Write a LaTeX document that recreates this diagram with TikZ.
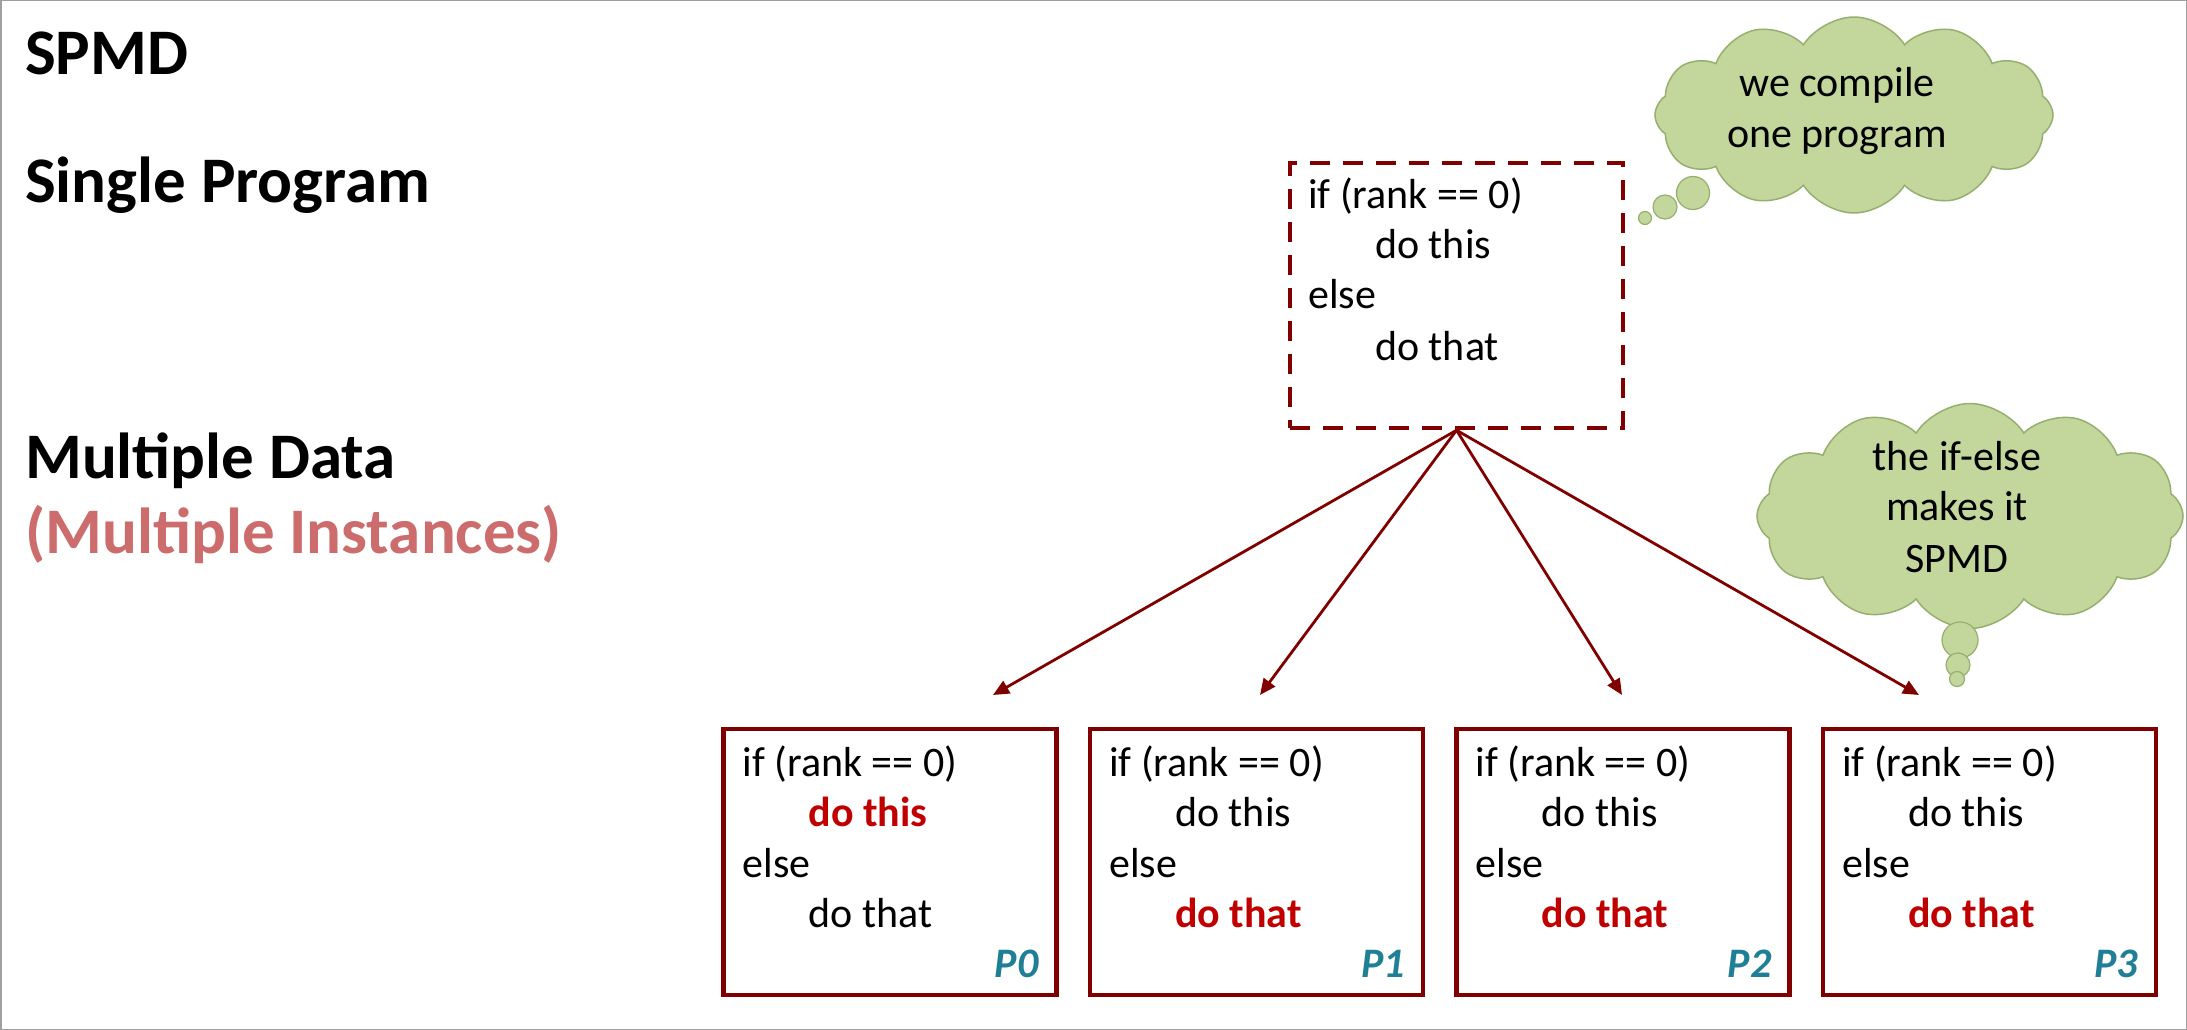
\documentclass[tikz,border=0pt]{standalone}
\usepackage{fontspec}
\setmainfont{Carlito}
\usetikzlibrary{shapes.symbols,arrows.meta,calc}
\definecolor{dred}{RGB}{128,0,0}
\definecolor{hred}{RGB}{192,0,0}
\definecolor{salmon}{RGB}{204,108,108}
\definecolor{pteal}{RGB}{31,127,151}
\definecolor{cgreen}{RGB}{195,214,155}
\definecolor{cedge}{RGB}{150,175,110}
\newcommand\mycodebox[5]{%
  \node[cbox] (b#1) at (#2+166.5,862) {};
  \node[code] (b#1l1) at (#2+19,776) {if (rank == 0)};
  \node[code] (b#1l2) at (#2+85,826) {#3};
  \node[code] (b#1l3) at (#2+19,877) {else};
  \node[code] (b#1l4) at (#2+85,927) {#4};
  \node[plabel] (b#1p) at (#2+315,977) {#5};
}
\begin{document}
\begin{tikzpicture}[x=1pt,y=-1pt,
  title/.style={font=\fontsize{65}{72}\selectfont\bfseries, inner sep=0pt, anchor=base west},
  code/.style={font=\fontsize{42}{50}\selectfont, inner sep=0pt, anchor=base west},
  plabel/.style={font=\fontsize{42}{50}\selectfont\bfseries\itshape, text=pteal, inner sep=0pt, anchor=base east},
  ctext/.style={font=\fontsize{42}{50}\selectfont, inner sep=0pt, anchor=base},
  dbox/.style={draw=dred, line width=4.5pt, dash pattern=on 20pt off 13pt, minimum width=333pt, minimum height=265pt, inner sep=0pt},
  cbox/.style={draw=dred, line width=4.5pt, fill=white, minimum width=333pt, minimum height=266pt, inner sep=0pt},
  arr/.style={draw=dred, line width=2.8pt, -{Triangle[length=16pt,width=14pt]}},
  cloudshape/.style={cloud, cloud puffs=12, cloud puff arc=115, cloud ignores aspect, fill=cgreen, draw=cedge, line width=1.5pt, inner sep=0pt},
  bubble/.style={circle, fill=cgreen, draw=cedge, line width=1.2pt, inner sep=0pt}
]
\useasboundingbox (0,0) rectangle (2187,1030);
\draw[gray!75, line width=1.5pt] (0.75,0.75) rectangle (2186.25,1029.25);

% titles
\node[title] (t1) at (25,75) {SPMD};
\node[title] (t2) at (25,202) {Single Program};
\node[title] (t3) at (25,478) {Multiple Data};
\node[title, text=salmon] (t4) at (25,553) {(Multiple Instances)};

% source program
\node[dbox] (src) at (1456.5,295.5) {};
\node[code] (s1) at (1308,208) {if (rank == 0)};
\node[code] (s2) at (1375,258) {do this};
\node[code] (s3) at (1308,308) {else};
\node[code] (s4) at (1375,360) {do that};

% instances
\mycodebox{0}{723.5}{\textcolor{hred}{\bfseries do this}}{do that}{P0}
\mycodebox{1}{1090}{do this}{\textcolor{hred}{\bfseries do that}}{P1}
\mycodebox{2}{1456.5}{do this}{\textcolor{hred}{\bfseries do that}}{P2}
\mycodebox{3}{1823}{do this}{\textcolor{hred}{\bfseries do that}}{P3}

% arrows
\coordinate (e0) at (993,695);
\coordinate (e1) at (1260,695);
\coordinate (e2) at (1622,695);
\coordinate (e3) at (1919,695);
\foreach \e in {e0,e1,e2,e3} \draw[arr] (src.south) -- (\e);

% cloud 1
\node[cloudshape, minimum width=398pt, minimum height=196pt] (c1) at (1854,115) {};
\node[bubble, minimum size=33pt] (c1a) at (1693,193) {};
\node[bubble, minimum size=24pt] (c1b) at (1665,207) {};
\node[bubble, minimum size=13pt] (c1c) at (1645,218) {};
\node[ctext] (c1t1) at (1837,97) {we compile};
\node[ctext] (c1t2) at (1837,147) {one program};

% cloud 2
\node[cloudshape, minimum width=426pt, minimum height=225pt] (c2) at (1970,516) {};
\node[bubble, minimum size=36pt] (c2a) at (1960,640) {};
\node[bubble, minimum size=24pt] (c2b) at (1958,665) {};
\node[bubble, minimum size=15pt] (c2c) at (1957,679) {};
\node[ctext] (c2t1) at (1957,470) {the if-else};
\node[ctext] (c2t2) at (1957,520) {makes it};
\node[ctext] (c2t3) at (1957,572) {SPMD};
\end{tikzpicture}
\end{document}
